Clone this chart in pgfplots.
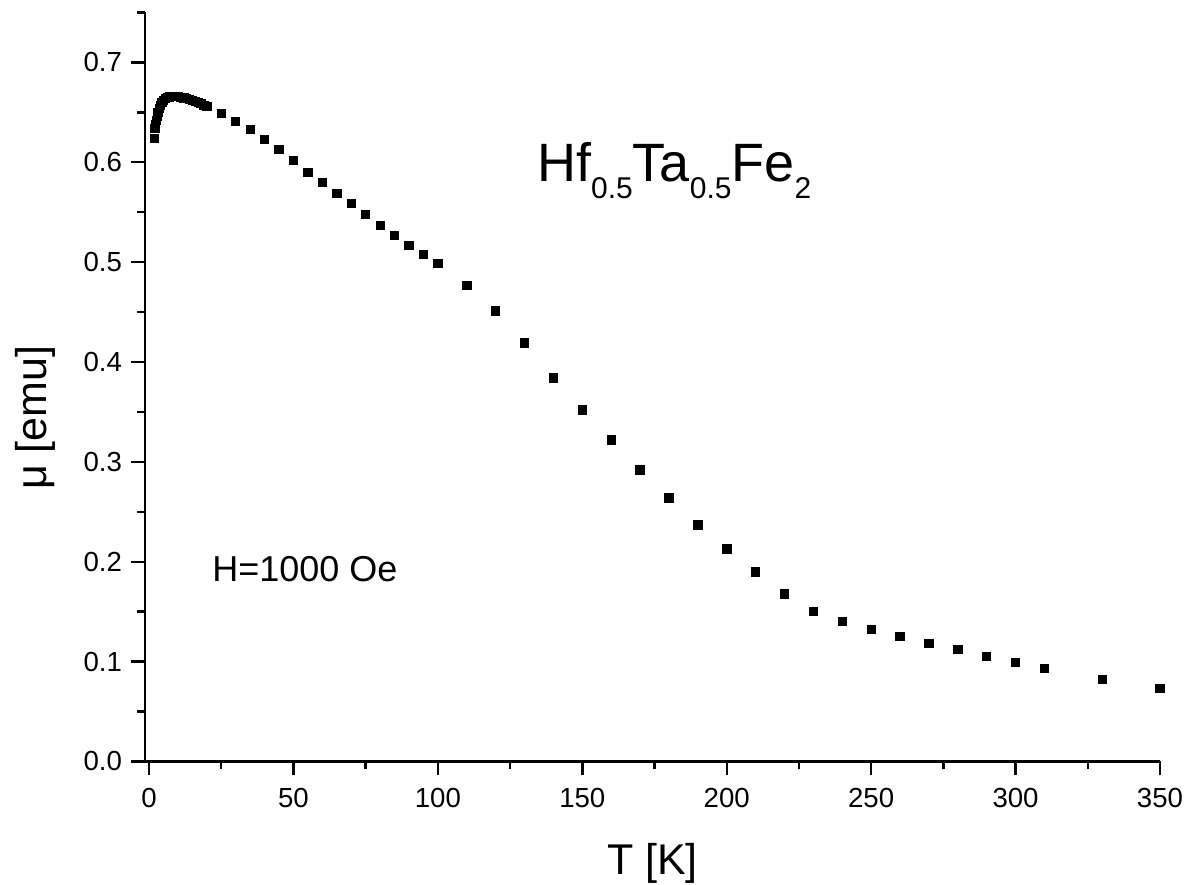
\documentclass[border=0pt]{standalone}
\usepackage{fontspec}
\setmainfont{Liberation Sans}
\usepackage{pgfplots}
\pgfplotsset{compat=1.18}
\usetikzlibrary{calc}
\begin{document}
\begin{tikzpicture}
\begin{axis}[
  scale only axis,
  width=507.5pt, height=374.5pt,
  xmin=-1.4, xmax=350, ymin=0, ymax=0.75,
  axis x line=bottom, axis y line=left,
  axis line style={-, line width=1.4pt},
  every tick/.style={line width=1.2pt, black},
  tick align=outside,
  major tick length=7pt, minor tick length=4pt,
  xtick={0,50,...,350}, ytick={0,0.1,...,0.71},
  minor x tick num=1, minor y tick num=1,
  extra y ticks={0.75}, extra y tick labels={},
  extra y tick style={major tick length=4pt},
  /pgf/number format/assume math mode=true,
  yticklabel style={/pgf/number format/fixed, /pgf/number format/fixed zerofill, /pgf/number format/precision=1},
  tick label style={font=\fontsize{13.8}{16}\selectfont},
  xticklabel style={yshift=-3pt},
  yticklabel style={xshift=-1pt},
  xlabel={T [K]}, ylabel={μ [emu]},
  xlabel style={at={(axis description cs:0.5,-0.1515)}, anchor=base, font=\fontsize{21.5}{24}\selectfont},
  ylabel style={at={(axis description cs:-0.0966,0.459)}, rotate=0, anchor=base, font=\fontsize{21.5}{24}\selectfont},
  clip=false,
]
\addplot[only marks, mark=square*, mark size=2.1pt, black] coordinates {
(1.8,0.624) (2.0,0.634) (2.2,0.638) (2.5,0.642) (2.8,0.646) (3.1,0.650)
(3.5,0.654) (3.9,0.657) (4.4,0.660) (5.0,0.662) (5.6,0.664) (6.3,0.665)
(7.0,0.6655) (8,0.666) (9,0.666) (10,0.666) (11,0.665) (12,0.6645)
(13,0.664) (14,0.663) (15,0.662) (16,0.661) (17,0.660) (18,0.659)
(19,0.657) (20,0.656)
(25,0.649) (30,0.641) (35,0.633) (40,0.623) (45,0.613) (50,0.602)
(55,0.590) (60,0.580) (65,0.569) (70,0.559) (75,0.548) (80,0.537)
(85,0.527) (90,0.517) (95,0.508) (100,0.499)
(110,0.477) (120,0.451) (130,0.419) (140,0.384) (150,0.352) (160,0.322)
(170,0.292) (180,0.264) (190,0.237) (200,0.213) (210,0.190) (220,0.168)
(230,0.150) (240,0.140) (250,0.132) (260,0.125) (270,0.118) (280,0.112)
(290,0.105) (300,0.099) (310,0.093) (330,0.082) (350,0.073)
};
\node[anchor=base west, inner sep=0pt, font=\fontsize{27}{30}\selectfont] at (axis description cs:0.386,0.7737)
  {Hf\raisebox{-8.5pt}{\fontsize{15}{17}\selectfont 0.5}Ta\raisebox{-8.5pt}{\fontsize{15}{17}\selectfont 0.5}Fe\raisebox{-8.5pt}{\fontsize{15}{17}\selectfont 2}};
\node[anchor=base west, inner sep=0pt, font=\fontsize{18}{20}\selectfont] at (axis description cs:0.066,0.2397) {H=1000 Oe};
\coordinate (SW) at (rel axis cs:0,0);
\coordinate (NE) at (rel axis cs:1,1);
\end{axis}
\pgfresetboundingbox
\path ($(SW)+(-72.5pt,-61.75pt)$) rectangle ($(NE)+(12.5pt,6.25pt)$);
\end{tikzpicture}
\end{document}
